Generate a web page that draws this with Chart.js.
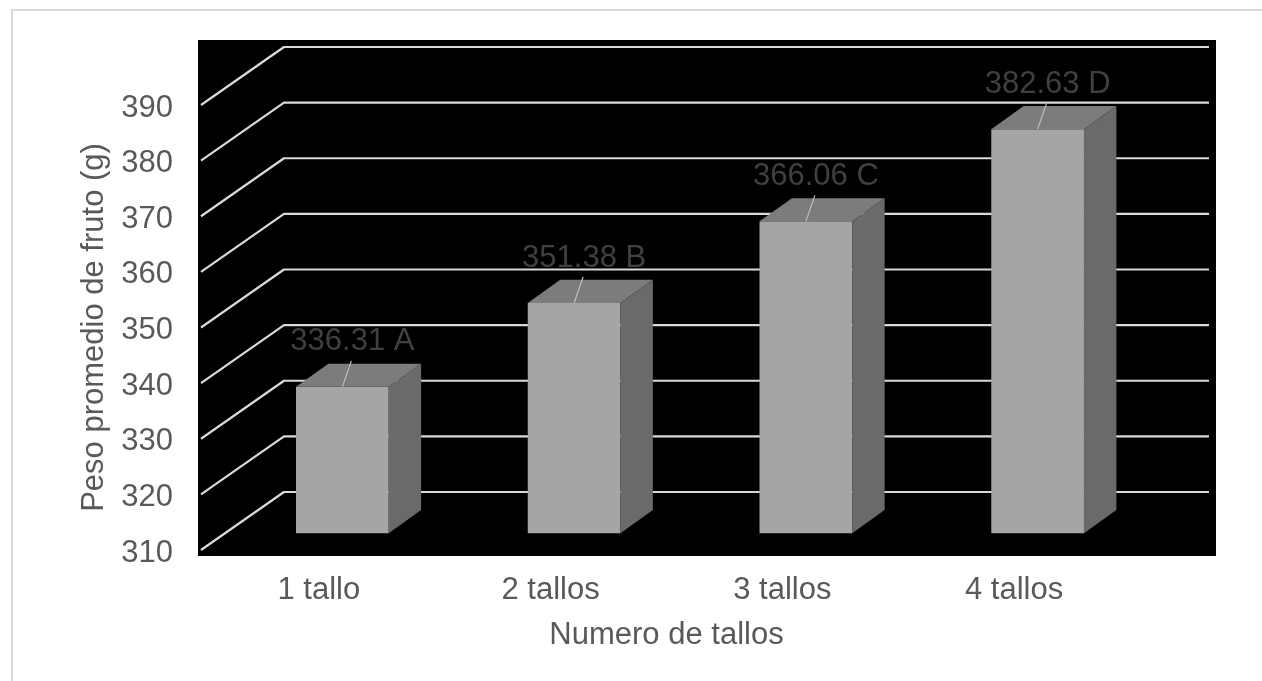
<!DOCTYPE html>
<html>
<head>
<meta charset="utf-8">
<script src="https://cdn.jsdelivr.net/npm/chart.js@4/dist/chart.umd.min.js"></script>
<style>
  html, body { margin: 0; padding: 0; background: #fff; }
  canvas { display: block; }
</style>
</head>
<body>
<canvas id="chart" width="1262" height="681"></canvas>
<script>
const categories = ['1 tallo', '2 tallos', '3 tallos', '4 tallos'];
const pesoPromedio = [336.31, 351.38, 366.06, 382.63];
const grupos = ['A', 'B', 'C', 'D'];
const yMin = 310;
const yMax = 390;
const yStep = 10;

// floor depth of the 3D box and where each bar sits inside it (0 = front edge, 1 = back wall)
const depth = { dx: 81, dy: -58 };
const barFront = 0.29;
const barBack = 0.69;

const FONT = { family: '"Liberation Sans", Arial, sans-serif', size: 31 };
const textColor = '#595959';

const plot3d = {
    id: 'plot3d',
    beforeDraw(chart) {
        const { ctx, chartArea: a } = chart;
        ctx.save();
        ctx.fillStyle = '#fff';
        ctx.fillRect(0, 0, chart.width, chart.height);
        ctx.strokeStyle = '#d9d9d9';
        ctx.lineWidth = 2;
        ctx.strokeRect(12, 10, chart.width, chart.height);
        // black plot area behind the box
        const top = a.top + depth.dy - 7;
        ctx.fillStyle = '#000';
        ctx.fillRect(a.left - 5, top, a.right + depth.dx + 5 - (a.left - 5), a.bottom + 6 - top);
        ctx.restore();
    },
    beforeDatasetsDraw(chart) {
        const { ctx, chartArea: a } = chart;
        const yScale = chart.scales.y;
        ctx.save();
        ctx.strokeStyle = '#d9d9d9';
        ctx.lineWidth = 2.2;
        ctx.lineJoin = 'round';
        yScale.ticks.forEach(t => {
            const py = yScale.getPixelForValue(t.value);
            ctx.beginPath();
            ctx.moveTo(a.left - 2, py);
            ctx.lineTo(a.left + depth.dx, py + depth.dy);
            ctx.lineTo(a.right + depth.dx - 2, py + depth.dy);
            ctx.stroke();
        });
        ctx.restore();
        // bars are drawn on the front plane, push them back into the box
        ctx.save();
        ctx.translate(depth.dx * barFront, depth.dy * barFront);
    },
    afterDatasetsDraw(chart) {
        const { ctx } = chart;
        const bdx = depth.dx * (barBack - barFront);
        const bdy = depth.dy * (barBack - barFront);
        const meta = chart.getDatasetMeta(0);
        meta.data.forEach(bar => {
            const { x, y, base, width } = bar.getProps(['x', 'y', 'base', 'width'], true);
            const x1 = x - width / 2, x2 = x + width / 2;
            ctx.fillStyle = '#7c7c7c';
            ctx.beginPath();
            ctx.moveTo(x1, y);
            ctx.lineTo(x2, y);
            ctx.lineTo(x2 + bdx, y + bdy);
            ctx.lineTo(x1 + bdx, y + bdy);
            ctx.closePath();
            ctx.fill();
            ctx.fillStyle = '#6a6a6a';
            ctx.beginPath();
            ctx.moveTo(x2, y);
            ctx.lineTo(x2 + bdx, y + bdy);
            ctx.lineTo(x2 + bdx, base + bdy);
            ctx.lineTo(x2, base);
            ctx.closePath();
            ctx.fill();
        });
        ctx.restore();

        // value labels with leader lines
        const fx = depth.dx * barFront, fy = depth.dy * barFront;
        ctx.save();
        ctx.font = `${FONT.size}px ${FONT.family}`;
        ctx.textAlign = 'center';
        ctx.textBaseline = 'middle';
        meta.data.forEach((bar, i) => {
            const { x, y } = bar.getProps(['x', 'y'], true);
            const px = x + fx, py = y + fy;
            ctx.strokeStyle = '#bfbfbf';
            ctx.lineWidth = 1.2;
            ctx.beginPath();
            ctx.moveTo(px, py);
            ctx.lineTo(px + 9, py - 26);
            ctx.stroke();
            ctx.fillStyle = '#404040';
            ctx.fillText(pesoPromedio[i].toFixed(2) + ' ' + grupos[i], px + 10, py - 45);
        });
        ctx.restore();
    }
};

new Chart(document.getElementById('chart'), {
    type: 'bar',
    data: {
        labels: categories,
        datasets: [{
            data: pesoPromedio,
            base: yMin,
            backgroundColor: '#a5a5a5',
            borderWidth: 0,
            barPercentage: 0.4,
            categoryPercentage: 1,
            clip: false
        }]
    },
    options: {
        responsive: false,
        animation: false,
        layout: { padding: { left: 60, top: 105, right: 132, bottom: 0 } },
        plugins: { legend: { display: false }, tooltip: { enabled: false } },
        scales: {
            x: {
                grid: { display: false, drawTicks: false },
                border: { display: false },
                ticks: { color: textColor, font: FONT, padding: 22 },
                title: { display: true, text: 'Numero de tallos', color: textColor, font: FONT, padding: { top: 0, bottom: 27 } },
                afterFit(scale) { scale.height = 131; }
            },
            y: {
                min: yMin,
                max: yMax,
                grid: { display: false, drawTicks: false },
                border: { display: false },
                ticks: { stepSize: yStep, color: textColor, font: FONT, padding: 30, labelOffset: 3 },
                title: { display: true, text: 'Peso promedio de fruto (g)', color: textColor, font: FONT, padding: { top: 16, bottom: 0 } },
                afterFit(scale) { scale.width = 143; }
            }
        }
    },
    plugins: [plot3d]
});
</script>
</body>
</html>
